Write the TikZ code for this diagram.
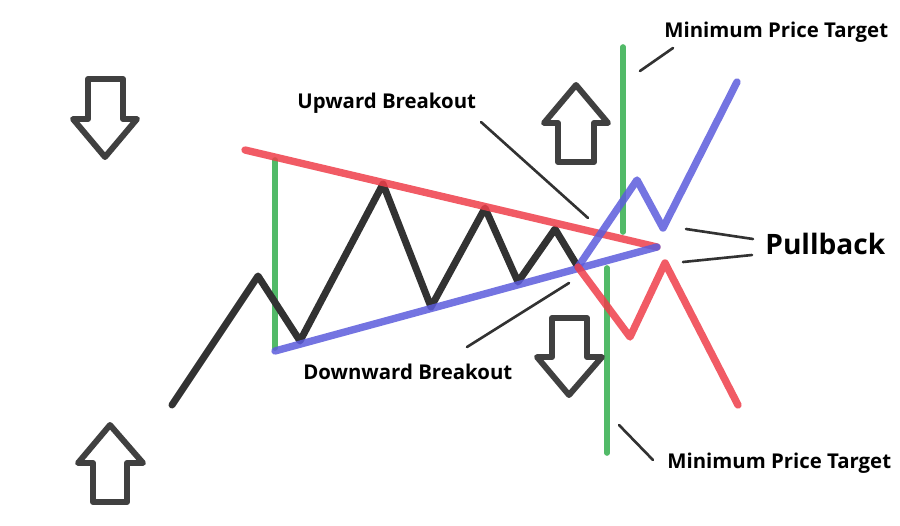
\documentclass[tikz,border=0pt]{standalone}
\usepackage{fontspec}
\setmainfont{Open Sans}
\usepackage{tikz}
\usetikzlibrary{positioning, calc}
\definecolor{chartred}{RGB}{238,62,74}
\definecolor{chartblue}{RGB}{92,92,220}
\definecolor{chartgreen}{RGB}{82,186,104}
\definecolor{chartblack}{RGB}{50,50,50}
\definecolor{arrowgray}{RGB}{64,64,64}
\tikzset{>=latex}

\begin{document}
\begin{tikzpicture}[x=0.02cm,y=-0.02cm,line join=round,line cap=round,
    price/.style={draw=chartblack,line width=4pt},
    upper/.style={draw=chartred,opacity=0.85,line width=4.2pt},
    lower/.style={draw=chartblue,opacity=0.85,line width=4.2pt},
    target/.style={draw=chartgreen,line width=3.2pt},
    hollow/.style={draw=arrowgray,line width=3.4pt,fill=white},
    pointer/.style={draw=chartblack,line width=1.5pt},
    label/.style={font=\bfseries\fontsize{11.6}{13}\selectfont,anchor=west,inner sep=0pt},
    every node/.style={inner sep=0pt}]
    \useasboundingbox (0,0) rectangle (900,525);
    % price points
    \coordinate (p0) at (172,405);
    \coordinate (p1) at (258,276);
    \coordinate (p2) at (300,341);
    \coordinate (p3) at (383,184);
    \coordinate (p4) at (431,307);
    \coordinate (p5) at (485,208);
    \coordinate (p6) at (518,282);
    \coordinate (p7) at (555,229);
    \coordinate (brk) at (578,267);
    % triangle
    \coordinate (topL) at (245,150);
    \coordinate (botL) at (275,351);
    \coordinate (apex) at (657,247);
    % breakout paths
    \coordinate (u1) at (637,180);
    \coordinate (u2) at (663,228);
    \coordinate (u3) at (737,82);
    \coordinate (d1) at (630,337);
    \coordinate (d2) at (665,263);
    \coordinate (d3) at (738,405);
    % targets
    \draw[target] (275,160) -- (275,348);
    \draw[target] (623,47) -- (623,232);
    \draw[target] (607,268) -- (607,453);
    \draw[price] (p0) -- (p1) -- (p2) -- (p3) -- (p4) -- (p5) -- (p6) -- (p7) -- (brk);
    \draw[upper] (topL) -- (apex);
    \draw[lower] (botL) -- (apex);
    \draw[lower] (brk) -- (u1) -- (u2) -- (u3);
    \draw[upper] (brk) -- (d1) -- (d2) -- (d3);
    % hollow arrows
    \draw[hollow] (88,79) -- (123,79) -- (123,119) -- (137,119) -- (105,157) -- (73,119) -- (88,119) -- cycle;
    \draw[hollow] (93,502) -- (127,502) -- (127,463) -- (143,463) -- (110,425) -- (78,463) -- (93,463) -- cycle;
    \draw[hollow] (558,162) -- (594,162) -- (594,123) -- (608,123) -- (576,85) -- (544,123) -- (558,123) -- cycle;
    \draw[hollow] (552,318) -- (587,318) -- (587,357) -- (602,357) -- (569,395) -- (537,357) -- (552,357) -- cycle;
    % labels
    \node[label] (up) at (297,103) {Upward Breakout};
    \node[label] (down) at (303,372) {Downward Breakout};
    \node[label] (mintop) at (664,32) {Minimum Price Target};
    \node[label] (minbot) at (667,463) {Minimum Price Target};
    \node[label,font=\bfseries\fontsize{16}{18}\selectfont] (pull) at (765,244) {Pullback};
    % pointers
    \coordinate (upA) at (481,122);
    \coordinate (upB) at (588,218);
    \coordinate (dnA) at (569,283);
    \coordinate (dnB) at (467,347);
    \coordinate (mtA) at (673,48);
    \coordinate (mtB) at (640,71);
    \coordinate (mbA) at (619,425);
    \coordinate (mbB) at (653,460);
    \coordinate (plA) at (753,239);
    \coordinate (plB) at (686,229);
    \coordinate (plC) at (752,255);
    \coordinate (plD) at (683,262);
    \path[pointer]
        (upA) edge (upB)
        (dnA) edge (dnB)
        (mtA) edge (mtB)
        (mbA) edge (mbB)
        (plA) edge (plB)
        (plC) edge (plD)
    ;
\end{tikzpicture}
\end{document}
